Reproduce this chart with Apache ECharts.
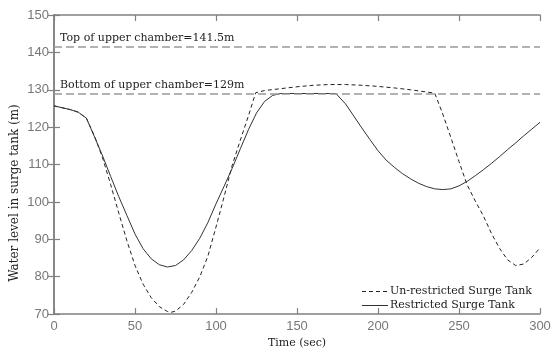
<!DOCTYPE html>
<html><head><meta charset="utf-8">
<script src="https://cdn.jsdelivr.net/npm/echarts@6/dist/echarts.min.js"></script>
<style>html,body{margin:0;padding:0;background:#fff}#c{width:557px;height:354px}</style>
</head><body><div id="c"></div>
<script>
var seriesNames = ['Un-restricted Surge Tank', 'Restricted Surge Tank'];
var unrestrictedTime = [0,5,10,15,20,25,30,35,40,45,50,55,60,65,70,72,75,80,85,90,95,100,105,110,115,120,124.5,130,140,150,160,170,180,190,200,210,220,230,235,240,245,250,255,260,265,270,275,280,285,290,295,300];
var unrestrictedLevel = [125.7,125.2,124.7,124.0,122.4,117.6,111.8,104.6,97.0,89.6,83.0,78.0,74.4,72.0,70.7,70.45,70.8,72.6,75.8,80.0,85.5,93.3,101.4,109.8,116.5,123.0,129.2,129.8,130.3,130.8,131.2,131.4,131.4,131.2,130.9,130.5,130.0,129.4,129.1,123.5,117.2,110.8,104.6,100.3,96.3,91.6,87.6,84.5,83.0,83.4,85.2,87.7];
var restrictedTime = [0,5,10,15,20,25,30,35,40,45,50,55,60,65,70,75,80,85,90,95,100,105,110,115,120,125,130,135,140,145,150,155,160,165,170,174,180,185,190,195,200,205,210,215,220,225,230,235,240,245,250,255,260,265,270,275,280,285,290,295,300];
var restrictedLevel = [125.7,125.2,124.7,124.0,122.4,117.4,112.3,106.8,101.4,96.4,91.4,87.5,84.8,83.2,82.6,83.0,84.5,87.0,90.3,94.5,99.5,104.2,109.0,114.2,119.3,123.8,126.9,128.5,129.0,129.0,129.0,129.0,129.0,129.0,129.0,129.0,126.2,123.0,119.8,116.7,113.7,111.2,109.3,107.6,106.2,105.0,104.1,103.5,103.3,103.5,104.3,105.5,107.0,108.6,110.3,112.1,114.0,115.8,117.7,119.5,121.3];
var refLevels = [141.5, 129];
var refLabels = ['Top of upper chamber=141.5m', 'Bottom of upper chamber=129m'];
var xTicks = [0,50,100,150,200,250,300];
var yTicks = [70,80,90,100,110,120,130,140,150];
var xTitle = 'Time (sec)';
var yTitle = 'Water level in surge tank (m)';

function pairs(t, v){ return t.map(function(x,i){ return [x, v[i]]; }); }

var serifFont = 'DejaVu Serif';
var axisColor = '#808080';
function axisCommon(show){
  return {
    axisLine:{show:true, lineStyle:{color:axisColor, width:1.5}},
    axisTick:{show:true, inside:true, length:6, lineStyle:{color:axisColor, width:1.2}},
    splitLine:{show:false},
    axisLabel:{show:show, color:'#777', fontFamily:'Liberation Sans', fontSize:13}
  };
}
var xBottom = Object.assign(axisCommon(true), {type:'value', min:xTicks[0], max:xTicks[xTicks.length-1], interval:50, position:'bottom',
  name:xTitle, nameLocation:'middle', nameGap:22, nameTextStyle:{fontFamily:serifFont, fontSize:11, color:'#222'}});
xBottom.axisLabel.margin = 6;
var xTop = Object.assign(axisCommon(false), {type:'value', min:xTicks[0], max:xTicks[xTicks.length-1], interval:50, position:'top'});
var yLeft = Object.assign(axisCommon(true), {type:'value', min:yTicks[0], max:yTicks[yTicks.length-1], interval:10, position:'left'});
yLeft.axisLabel.margin = 5;
var yRight = Object.assign(axisCommon(false), {type:'value', min:yTicks[0], max:yTicks[yTicks.length-1], interval:10, position:'right'});

var chart = echarts.init(document.getElementById('c'), null, {renderer:'canvas'});
chart.setOption({
  animation:false,
  backgroundColor:'#fff',
  grid:{left:54, right:17, top:15, bottom:37},
  xAxis:[xBottom, xTop],
  yAxis:[yLeft, yRight],
  legend:{
    orient:'vertical', right:20, top:281, itemWidth:26, itemHeight:10, itemGap:3,
    itemStyle:{opacity:0},
    lineStyle:{width:1},
    textStyle:{fontFamily:serifFont, fontSize:11, color:'#222', padding:[0,0,0,-3]},
    data:seriesNames
  },
  graphic:[{
    type:'text', x:15, y:193, rotation:Math.PI/2,
    style:{text:yTitle, font:'12px "'+serifFont+'"', fill:'#222', textAlign:'center', textVerticalAlign:'middle'}
  }],
  series:[
    {
      name:seriesNames[0], type:'line', xAxisIndex:0, yAxisIndex:0,
      data:pairs(unrestrictedTime, unrestrictedLevel), showSymbol:false, symbol:'none', smooth:false,
      lineStyle:{color:'#222', width:1, type:[4,3]}, itemStyle:{color:'#222'},
      markLine:{
        silent:true, symbol:'none',
        lineStyle:{color:'#999', width:1.5, type:[8,4]},
        label:{position:'insideStartTop', distance:[6,3], fontFamily:serifFont, fontSize:11, color:'#222',
          formatter:function(p){ return refLabels[refLevels.indexOf(p.value)]; }},
        data:refLevels.map(function(v){ return {yAxis:v}; })
      }
    },
    {
      name:seriesNames[1], type:'line', xAxisIndex:0, yAxisIndex:0,
      data:pairs(restrictedTime, restrictedLevel), showSymbol:false, symbol:'none', smooth:false,
      lineStyle:{color:'#333', width:1}, itemStyle:{color:'#333'}
    }
  ]
});
</script></body></html>
